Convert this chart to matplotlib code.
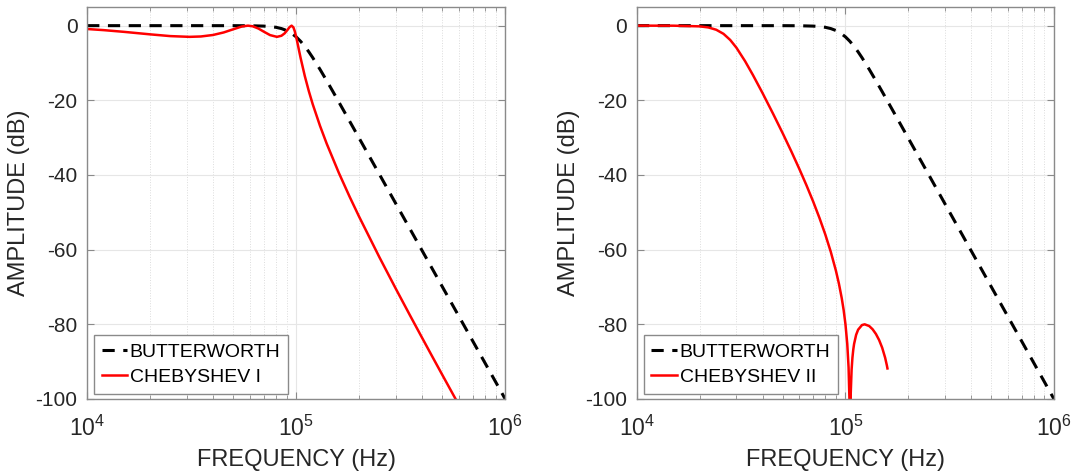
import matplotlib
matplotlib.use("Agg")
import matplotlib.pyplot as plt
from matplotlib.ticker import LogLocator, NullFormatter, FixedLocator

plt.rcParams['font.family'] = ['Liberation Sans', 'DejaVu Sans']
plt.rcParams['mathtext.fontset'] = 'custom'
plt.rcParams['mathtext.rm'] = 'Liberation Sans'
plt.rcParams['axes.unicode_minus'] = False

# ---- data (frequency in Hz, amplitude in dB) ----
bw_freq = [1.0e4, 3.0e4, 5.0e4, 6.0e4, 7.0e4, 7.5e4, 8.0e4, 8.5e4, 9.0e4, 9.5e4,
           1.0e5, 1.05e5, 1.1e5, 1.15e5, 1.2e5, 1.3e5, 1.4e5, 1.5e5, 1.7e5, 2.0e5,
           2.5e5, 3.0e5, 4.0e5, 5.0e5, 6.0e5, 7.0e5, 8.0e5, 9.0e5, 1.0e6]
bw_db = [0.0, 0.0, -0.004, -0.026, -0.121, -0.238, -0.441, -0.781, -1.302, -2.038,
         -3.010, -4.198, -5.555, -7.029, -8.568, -11.70, -14.76, -17.68, -23.07, -30.11,
         -39.79, -47.71, -60.21, -69.90, -77.82, -84.51, -90.31, -95.42, -100.0]

cheb1_freq = [1.0e4, 1.2e4, 1.5e4, 2.0e4, 2.5e4, 3.09e4, 3.5e4, 4.0e4, 4.5e4, 5.0e4,
              5.5e4, 5.88e4, 6.2e4, 6.6e4, 7.0e4, 7.5e4, 8.09e4, 8.5e4, 8.8e4, 9.1e4,
              9.3e4, 9.51e4, 9.7e4, 9.85e4, 1.0e5, 1.01e5, 1.02e5, 1.035e5, 1.05e5, 1.1e5,
              1.15e5, 1.2e5, 1.3e5, 1.4e5, 1.6e5, 1.8e5, 2.0e5, 2.5e5, 3.0e5, 3.5e5,
              4.0e5, 4.5e5, 5.0e5, 5.5e5, 6.0e5]
cheb1_db = [-0.90, -1.20, -1.66, -2.33, -2.80, -3.00, -2.90, -2.50, -1.82, -0.97,
            -0.22, 0.0, -0.17, -0.78, -1.61, -2.53, -3.00, -2.71, -2.08, -1.10,
            -0.39, 0.0, -0.46, -1.51, -3.00, -4.12, -5.27, -6.98, -8.64, -13.52,
            -17.57, -21.04, -26.82, -31.62, -39.43, -45.77, -51.15, -62.00, -70.51, -77.55,
            -83.57, -88.84, -93.52, -97.73, -101.57]

cheb2_freq = [1.0e4, 1.5e4, 2.0e4, 2.2e4, 2.4e4, 2.6e4, 2.8e4, 3.0e4, 3.3e4, 3.6e4,
              4.0e4, 4.5e4, 5.0e4, 5.5e4, 6.0e4, 6.5e4, 7.0e4, 7.5e4, 8.0e4, 8.5e4,
              9.0e4, 9.3e4, 9.6e4, 9.8e4, 1.0e5, 1.02e5, 1.035e5, 1.045e5, 1.0515e5, 1.06e5,
              1.07e5, 1.08e5, 1.09e5, 1.10e5, 1.125e5, 1.15e5, 1.2e5, 1.236e5, 1.3e5, 1.35e5,
              1.4e5, 1.45e5, 1.5e5, 1.55e5, 1.58e5, 1.59e5]
cheb2_db = [0.0, -0.01, -0.19, -0.48, -1.10, -2.19, -3.83, -5.92, -9.52, -13.24,
            -18.04, -23.65, -28.83, -33.69, -38.31, -42.76, -47.12, -51.48, -55.91, -60.56,
            -65.65, -69.09, -73.05, -76.18, -80.0, -85.24, -91.58, -100.18, -160.0, -98.47,
            -92.21, -88.93, -86.79, -85.25, -82.81, -81.44, -80.20, -80.0, -80.46, -81.34,
            -82.59, -84.21, -86.27, -88.96, -91.02, -91.82]

x_limits = (1e4, 1e6)
y_limits = (-100, 5)
y_ticks = [-100, -80, -60, -40, -20, 0]
labels_left = ['BUTTERWORTH', 'CHEBYSHEV I']
labels_right = ['BUTTERWORTH', 'CHEBYSHEV II']

TXT = '#262626'
fig = plt.figure(figsize=(10.76, 4.72), dpi=100)
ax1 = fig.add_axes([0.081, 0.1547, 0.3885, 0.8305])
ax2 = fig.add_axes([0.592, 0.1547, 0.3875, 0.8305])

dash = (0, (4.0, 2.8))

def style(ax, cheb_f, cheb_d, labels):
    ax.plot(bw_freq, bw_db, color='black', lw=2.2, linestyle=dash, label=labels[0])
    ax.plot(cheb_f, cheb_d, color='#ff0000', lw=1.8, label=labels[1])
    ax.set_xscale('log')
    ax.set_xlim(*x_limits)
    ax.set_ylim(*y_limits)
    ax.yaxis.set_major_locator(FixedLocator(y_ticks))
    ax.xaxis.set_major_locator(LogLocator(base=10, numticks=10))
    ax.xaxis.set_minor_locator(LogLocator(base=10, subs=range(2, 10), numticks=20))
    ax.xaxis.set_minor_formatter(NullFormatter())
    ax.grid(True, which='major', color='#e6e6e6', lw=0.8, ls='-')
    ax.grid(True, which='minor', axis='x', color='#dcdcdc', lw=0.7, ls=':')
    ax.set_axisbelow(True)
    for s in ax.spines.values():
        s.set_color('#8a8a8a')
        s.set_linewidth(1.0)
    ax.tick_params(which='both', direction='in', top=True, right=True,
                   colors='#8a8a8a', labelcolor=TXT, labelsize=15)
    ax.tick_params(which='major', length=5)
    ax.tick_params(which='minor', length=3)
    ax.tick_params(axis='x', which='major', pad=12, labelsize=16.5)
    ax.tick_params(axis='y', which='major', pad=7)
    ax.set_xlabel('FREQUENCY (Hz)', fontsize=17, color=TXT, labelpad=6)
    ax.set_ylabel('AMPLITUDE (dB)', fontsize=17, color=TXT, labelpad=4)
    leg = ax.legend(loc='lower left', bbox_to_anchor=(0.016, 0.013), borderaxespad=0,
                    fontsize=14, handlelength=1.3, handletextpad=0.15,
                    labelspacing=0.4, borderpad=0.4, fancybox=False,
                    framealpha=1, edgecolor='#8a8a8a')
    leg.get_frame().set_linewidth(1.0)
    for t in leg.get_texts():
        t.set_color('black')

style(ax1, cheb1_freq, cheb1_db, labels_left)
style(ax2, cheb2_freq, cheb2_db, labels_right)

fig.savefig('out.png', dpi=100, facecolor='white')
